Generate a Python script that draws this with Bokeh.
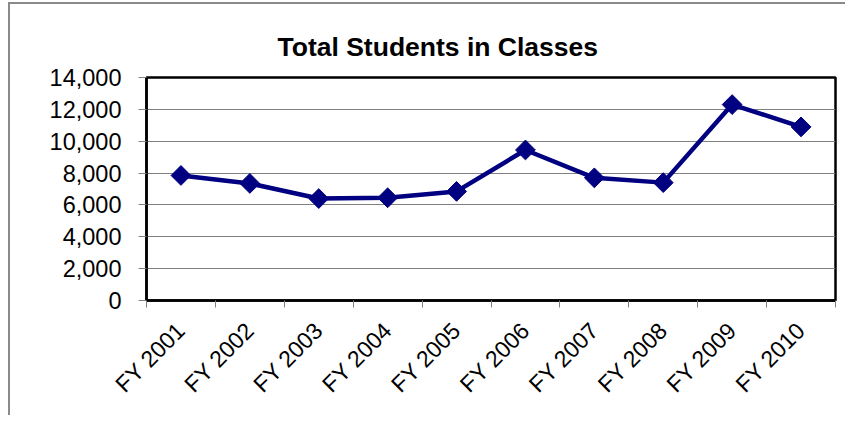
import numpy as np
from bokeh.plotting import figure
from bokeh.models import FixedTicker, NumeralTickFormatter, Range1d, Title
from bokeh.embed import file_html
from bokeh.resources import INLINE

categories = ["FY 2001", "FY 2002", "FY 2003", "FY 2004", "FY 2005",
              "FY 2006", "FY 2007", "FY 2008", "FY 2009", "FY 2010"]
students = [7850, 7350, 6400, 6450, 6850, 9450, 7700, 7400, 12300, 10900]
y_ticks = [0, 2000, 4000, 6000, 8000, 10000, 12000, 14000]
title_text = "Total Students in Classes"

n = len(categories)
centers = [i + 0.5 for i in range(n)]
bounds = [float(i) for i in range(n + 1)]

FONT = "Liberation Sans"

p = figure(width=845, height=415, output_backend="svg", toolbar_location=None,
           x_range=Range1d(0, n), y_range=Range1d(y_ticks[0], y_ticks[-1]),
           min_border_left=146, min_border_right=10, min_border_top=77,
           min_border_bottom=115)
p.title = Title(text="")
p.add_layout(Title(text=title_text, align="left", offset=131,
                   text_font=FONT, text_font_size="26.5px", text_font_style="bold",
                   text_color="black", standoff=32), "above")

p.border_fill_color = None
p.background_fill_color = "white"
p.outline_line_color = "black"
p.outline_line_width = 2.5
p.styles = {
    "background": "linear-gradient(#8a8a8a,#8a8a8a) 8px 2px / 2px calc(100% - 2px) no-repeat, "
                  "linear-gradient(#8a8a8a,#8a8a8a) 8px 2px / calc(100% - 8px) 2px no-repeat, white"
}

# grids
p.xgrid.visible = False
p.ygrid.ticker = FixedTicker(ticks=y_ticks)
p.ygrid.grid_line_color = "#808080"
p.ygrid.grid_line_width = 1

# y axis
p.yaxis.ticker = FixedTicker(ticks=y_ticks)
p.yaxis.formatter = NumeralTickFormatter(format="0,0")
p.yaxis.axis_line_color = "black"
p.yaxis.axis_line_width = 2.5
p.yaxis.major_tick_line_color = "#808080"
p.yaxis.major_tick_out = 8
p.yaxis.major_tick_in = 0
p.yaxis.minor_tick_line_color = None
p.yaxis.major_label_standoff = 17
p.yaxis.major_label_text_font = FONT
p.yaxis.major_label_text_font_size = "23.5px"
p.yaxis.major_label_text_color = "black"

# x axis
p.xaxis.ticker = FixedTicker(ticks=centers, minor_ticks=bounds)
p.xaxis.major_label_overrides = {c: lab for c, lab in zip(centers, categories)}
p.xaxis.axis_line_color = "black"
p.xaxis.axis_line_width = 2.5
p.xaxis.major_tick_line_color = None
p.xaxis.major_tick_out = 0
p.xaxis.major_tick_in = 0
p.xaxis.minor_tick_line_color = "#808080"
p.xaxis.minor_tick_out = 7
p.xaxis.minor_tick_in = 0
p.xaxis.major_label_orientation = np.pi / 4
p.xaxis.major_label_standoff = 19
p.xaxis.major_label_text_font = FONT
p.xaxis.major_label_text_font_size = "23px"
p.xaxis.major_label_text_color = "black"

p.line(centers, students, line_color="#000080", line_width=4.5)
p.scatter(centers, students, marker="square", angle=np.pi / 4, size=14,
          fill_color="#000080", line_color="#000080", line_width=1)

open("out.html", "w").write(file_html(p, INLINE))
